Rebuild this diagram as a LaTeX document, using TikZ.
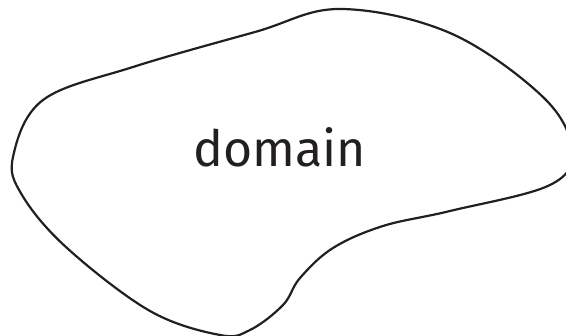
\documentclass[tikz,border=0pt]{standalone}
\usepackage{fontspec}
\setsansfont{Fira Sans}
\definecolor{ink}{HTML}{231F20}
\tikzset{
  outline/.style={draw=ink, line width=2.2pt, line join=round},
  label/.style={text=ink, font=\sffamily\fontsize{50}{60}\selectfont, inner sep=0pt}
}
\begin{document}
\begin{tikzpicture}[x=1pt, y=-1pt]
  \useasboundingbox (0,0) rectangle (566,336);
  \clip (0,0) rectangle (566,336);
  % closed outline of the region
  \draw[outline] plot[smooth cycle, tension=0.6] coordinates {
    (13,157) (43,100) (133,67) (255,32) (340,9) (450,33) (543,97)
    (572,150) (550,185) (450,211) (383,226) (333,248) (300,278)
    (283,305) (250,330) (220,335) (150,311) (67,248) (22,195)};
  \node[label, anchor=base] (name) at (280,167) {domain};
\end{tikzpicture}
\end{document}
